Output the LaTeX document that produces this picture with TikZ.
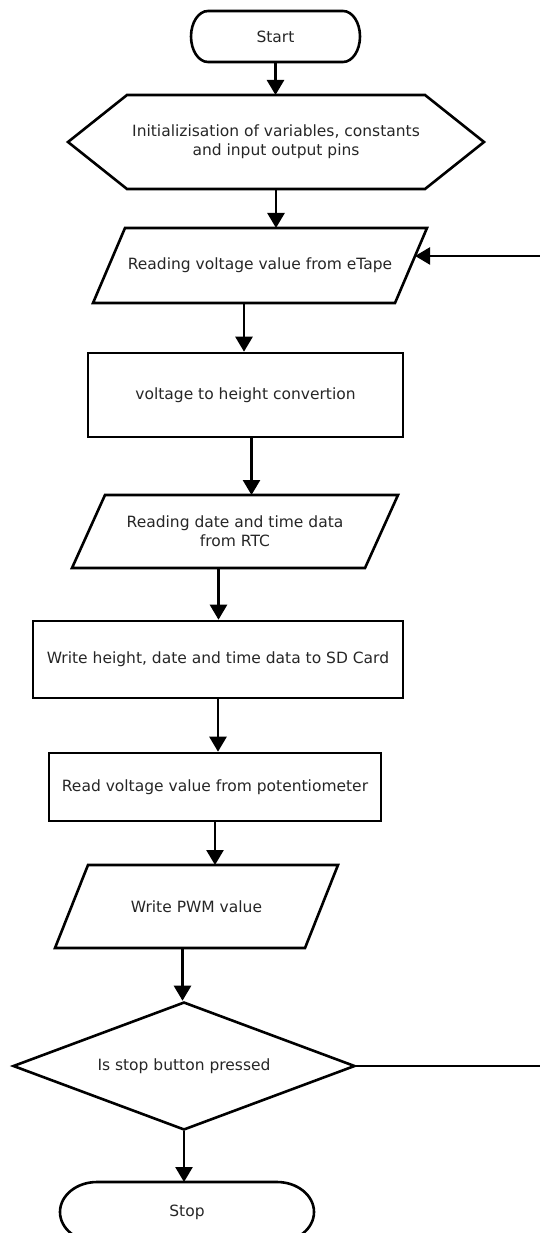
\documentclass[tikz,border=0pt]{standalone}
\usepackage{fontspec}
\setmainfont{DejaVu Sans}
\usetikzlibrary{shapes.geometric,arrows.meta,calc}
\begin{document}
\begin{tikzpicture}[x=1pt,y=-1pt,line width=2.6pt,
  every node/.style={font=\fontsize{15.5}{19}\selectfont, text=black!85, inner sep=0pt},
  term/.style={outer sep=0pt},
  box/.style={draw, rectangle},
  arr/.style={-{Triangle[width=17pt,length=15pt]}}]
\useasboundingbox (0,0) rectangle (540,1233);
% start
\node[term, minimum width=135, minimum height=51] (start) at (275.5,36.5) {Start};
\draw (start.north west) -- (start.north east) arc[start angle=90, end angle=-90, x radius=17pt, y radius=25.5pt]
  -- (start.south west) arc[start angle=270, end angle=90, x radius=17pt, y radius=25.5pt] -- cycle;
% init
\node[term, minimum width=298, minimum height=94, align=center] (init) at (276,142) {Initializisation of variables, constants\\and input output pins};
\draw (init.north west) -- (init.north east) -- ([xshift=59pt]init.east) -- (init.south east)
  -- (init.south west) -- ([xshift=-59pt]init.west) -- cycle;
% eTape
\node[term, minimum width=302, minimum height=75] (tape) at (260,265.5) {Reading voltage value from eTape};
\draw ([xshift=16pt]tape.north west) -- ([xshift=16pt]tape.north east) -- ([xshift=-16pt]tape.south east)
  -- ([xshift=-16pt]tape.south west) -- cycle;
\node[box, minimum width=315, minimum height=84] (conv) at (245.5,395) {voltage to height convertion};
% RTC
\node[term, minimum width=293, minimum height=73, align=center] (rtc) at (235,531.5) {Reading date and time data\\from RTC};
\draw ([xshift=16.5pt]rtc.north west) -- ([xshift=16.5pt]rtc.north east) -- ([xshift=-16.5pt]rtc.south east)
  -- ([xshift=-16.5pt]rtc.south west) -- cycle;
\node[box, minimum width=370, minimum height=77] (sd) at (218,659.5) {Write height, date and time data to SD Card};
\node[box, minimum width=332, minimum height=68] (pot) at (215,787) {Read voltage value from potentiometer};
% PWM
\node[term, minimum width=250, minimum height=83] (pwm) at (196.5,906.5) {Write PWM value};
\draw ([xshift=16.5pt]pwm.north west) -- ([xshift=16.5pt]pwm.north east) -- ([xshift=-16.5pt]pwm.south east)
  -- ([xshift=-16.5pt]pwm.south west) -- cycle;
\node[draw, diamond, aspect=2.67, minimum width=342, minimum height=128] (chk) at (184,1066) {Is stop button pressed};
% stop
\node[term, minimum width=180, minimum height=60] (stop) at (187,1212) {Stop};
\draw (stop.north west) -- (stop.north east) arc[start angle=90, end angle=-90, x radius=37pt, y radius=30pt]
  -- (stop.south west) arc[start angle=270, end angle=90, x radius=37pt, y radius=30pt] -- cycle;
% arrows
\draw[arr] (start.south) -- (start.south |- init.north);
\draw[arr] (init.south) -- (init.south |- tape.north);
\draw[arr] ([xshift=-16pt]tape.south) -- ([xshift=-16pt]tape.south |- conv.north);
\draw[arr] ([xshift=16.5pt]rtc.north |- conv.south) -- ([xshift=16.5pt]rtc.north);
\draw[arr] ([xshift=-16.5pt]rtc.south) -- ([xshift=-16.5pt]rtc.south |- sd.north);
\draw[arr] (sd.south) -- (sd.south |- pot.north);
\draw[arr] (pot.south) -- (pot.south |- pwm.north);
\draw[arr] ([xshift=-14pt]pwm.south) -- ([xshift=-14pt]pwm.south |- chk.north);
\draw[arr] (chk.south) -- (chk.south |- stop.north);
% loop back
\coordinate (tin) at ($([xshift=16pt]tape.north east)!0.373!([xshift=-16pt]tape.south east)$);
\coordinate (lp) at (560,0);
\draw[arr] (chk.east) -- (chk.east -| lp) -- (lp |- tin) -- (tin);
\end{tikzpicture}
\end{document}
